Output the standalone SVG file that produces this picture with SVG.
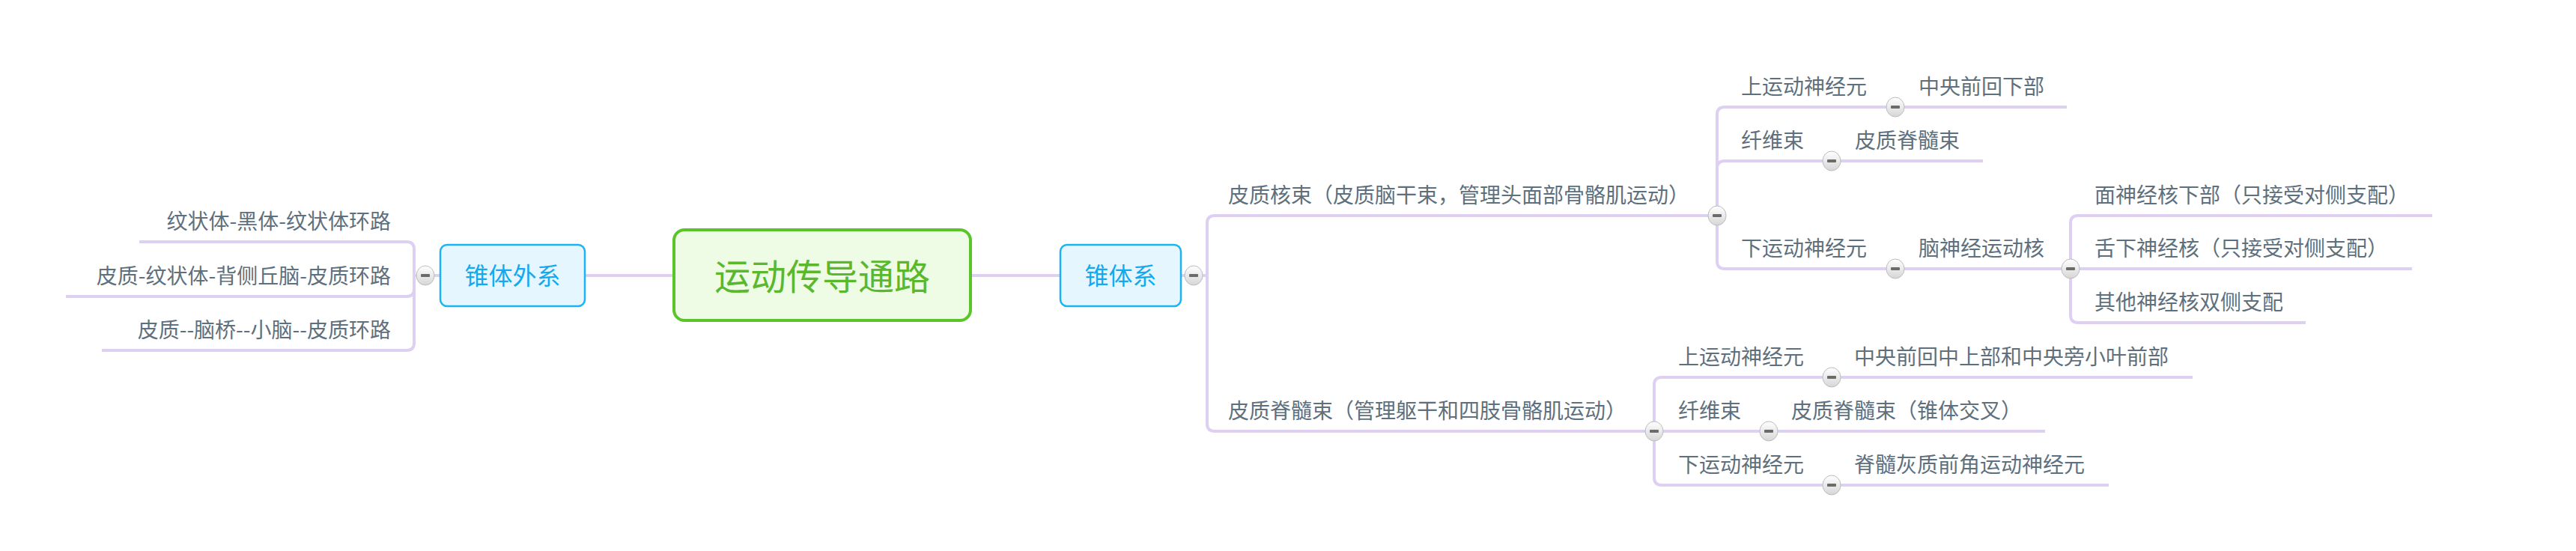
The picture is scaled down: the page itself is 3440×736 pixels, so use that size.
<svg xmlns="http://www.w3.org/2000/svg" width="3440" height="736" viewBox="0 0 3440 736">
<style>
.ln{fill:none;stroke:#ddd0f2;stroke-width:4;stroke-linecap:butt}
.t{font-family:"Microsoft YaHei","Noto Sans CJK SC","Noto Sans",sans-serif;font-size:28px;fill:#5e707d}
.main{fill:#eefce6;stroke:#5ac52b;stroke-width:4}
.mt{font-family:"Microsoft YaHei","Noto Sans CJK SC",sans-serif;font-size:48px;fill:#5ab82c;text-anchor:middle}
.sub{fill:#e5f6fe;stroke:#18b4f4;stroke-width:2.5}
.st{font-family:"Microsoft YaHei","Noto Sans CJK SC",sans-serif;font-size:32px;fill:#12a9ee;text-anchor:middle}
.btn ellipse{fill:url(#bg);stroke:#bdbdbd;stroke-width:1}
.btn rect{fill:#6b6b6b}
</style>
<defs>
<linearGradient id="bg" x1="0" y1="0" x2="0" y2="1">
<stop offset="0" stop-color="#ffffff"/>
<stop offset="1" stop-color="#d6d6d6"/>
</linearGradient>
<g id="minus" class="btn"><ellipse cx="0" cy="0" rx="12" ry="13"/><rect x="-6" y="-2" width="12" height="4" rx="1"/></g>
</defs>
<rect width="3440" height="736" fill="#ffffff"/>
<g id="connectors">
<path class="ln" d="M781,368 H900"/>
<path class="ln" d="M1296,368 H1416"/>
<path class="ln" d="M588,368 H553"/>
<path class="ln" d="M553,368 V333 Q553,323 543,323 H186"/>
<path class="ln" d="M553,368 V386 Q553,396 543,396 H88"/>
<path class="ln" d="M553,368 V458 Q553,468 543,468 H136"/>
<path class="ln" d="M1577,368 H1612"/>
<path class="ln" d="M1612,368 V298 Q1612,288 1622,288 H2293"/>
<path class="ln" d="M1612,368 V566 Q1612,576 1622,576 H2209"/>
<path class="ln" d="M2293,288 V153 Q2293,143 2303,143 H2760"/>
<path class="ln" d="M2293,288 V225 Q2293,215 2303,215 H2648"/>
<path class="ln" d="M2293,288 V349 Q2293,359 2303,359 H2765"/>
<path class="ln" d="M2765,359 V298 Q2765,288 2775,288 H3248"/>
<path class="ln" d="M2765,359 H3221"/>
<path class="ln" d="M2765,359 V421 Q2765,431 2775,431 H3079"/>
<path class="ln" d="M2209,576 V514 Q2209,504 2219,504 H2928"/>
<path class="ln" d="M2209,576 H2731"/>
<path class="ln" d="M2209,576 V638 Q2209,648 2219,648 H2816"/>
</g>
<g id="root"><rect class="main" x="900" y="307" width="396" height="121" rx="14"/><text class="mt" x="1098" y="387">运动传导通路</text></g>
<g id="n-extra"><rect class="sub" x="588" y="327" width="193" height="82" rx="9"/><text class="st" x="684.5" y="380">锥体外系</text></g>
<g id="n-pyr"><rect class="sub" x="1416" y="327" width="161" height="82" rx="9"/><text class="st" x="1496.5" y="380">锥体系</text></g>
<g id="n-l1"><text class="t" x="522" y="306" text-anchor="end">纹状体-黑体-纹状体环路</text></g>
<g id="n-l2"><text class="t" x="522" y="379" text-anchor="end">皮质-纹状体-背侧丘脑-皮质环路</text></g>
<g id="n-l3"><text class="t" x="522" y="451" text-anchor="end">皮质--脑桥--小脑--皮质环路</text></g>
<g id="n-cb"><text class="t" x="1640" y="271">皮质核束（皮质脑干束，管理头面部骨骼肌运动）</text></g>
<g id="n-cs"><text class="t" x="1640" y="559">皮质脊髓束（管理躯干和四肢骨骼肌运动）</text></g>
<g id="n-cb-u"><text class="t" x="2325" y="126">上运动神经元</text></g>
<g id="n-cb-u1"><text class="t" x="2562" y="126">中央前回下部</text></g>
<g id="n-cb-f"><text class="t" x="2325" y="198">纤维束</text></g>
<g id="n-cb-f1"><text class="t" x="2477" y="198">皮质脊髓束</text></g>
<g id="n-cb-d"><text class="t" x="2325" y="342">下运动神经元</text></g>
<g id="n-cb-d1"><text class="t" x="2562" y="342">脑神经运动核</text></g>
<g id="n-cb-d1a"><text class="t" x="2797" y="271">面神经核下部（只接受对侧支配）</text></g>
<g id="n-cb-d1b"><text class="t" x="2797" y="342">舌下神经核（只接受对侧支配）</text></g>
<g id="n-cb-d1c"><text class="t" x="2797" y="414">其他神经核双侧支配</text></g>
<g id="n-cs-u"><text class="t" x="2241" y="487">上运动神经元</text></g>
<g id="n-cs-u1"><text class="t" x="2476" y="487">中央前回中上部和中央旁小叶前部</text></g>
<g id="n-cs-f"><text class="t" x="2241" y="559">纤维束</text></g>
<g id="n-cs-f1"><text class="t" x="2392" y="559">皮质脊髓束（锥体交叉）</text></g>
<g id="n-cs-d"><text class="t" x="2241" y="631">下运动神经元</text></g>
<g id="n-cs-d1"><text class="t" x="2476" y="631">脊髓灰质前角运动神经元</text></g>
<g id="buttons">
<use href="#minus" x="568" y="368"/>
<use href="#minus" x="1594" y="368"/>
<use href="#minus" x="2293" y="288"/>
<use href="#minus" x="2209" y="576"/>
<use href="#minus" x="2531" y="143"/>
<use href="#minus" x="2446" y="215"/>
<use href="#minus" x="2531" y="359"/>
<use href="#minus" x="2765" y="359"/>
<use href="#minus" x="2446" y="504"/>
<use href="#minus" x="2362" y="576"/>
<use href="#minus" x="2446" y="648"/>
</g>
</svg>
